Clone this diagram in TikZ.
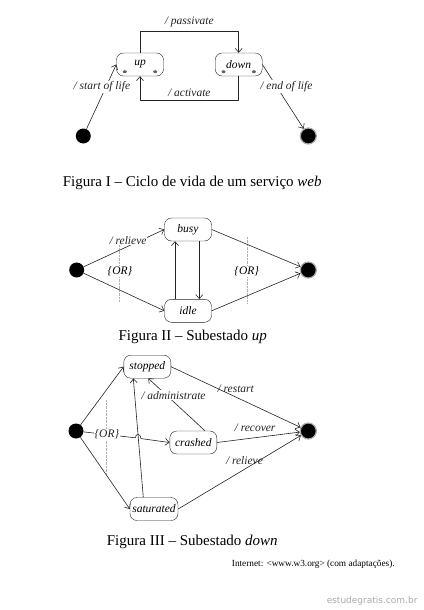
\documentclass[tikz,border=0pt]{standalone}
\usepackage{fontspec}
\setmainfont{Liberation Serif}
\newfontfamily\markfont{DejaVu Sans}
\usetikzlibrary{arrows.meta,calc,positioning}
\definecolor{linegray}{RGB}{35,35,35}
\definecolor{dotgray}{RGB}{100,100,100}
\definecolor{guidegray}{RGB}{175,175,175}
\definecolor{markgray}{RGB}{170,170,170}

\begin{document}
\begin{tikzpicture}[x=1pt,y=-1pt,font=\fontsize{11.5}{13}\selectfont\itshape,
  >={Straight Barb[length=4pt,width=7pt]},line join=round,
  state/.style={draw=linegray,rounded corners=7pt,minimum width=47pt,
    minimum height=23pt,inner sep=0pt},
  initial/.style={circle,fill=black,minimum size=15pt,inner sep=0pt},
  final/.style={circle,fill=black,draw=markgray,line width=1.2pt,
    minimum size=16pt,inner sep=0pt},
  trans/.style={->,linegray,semithick},
  guide/.style={guidegray,densely dotted},
  caption/.style={anchor=west,inner sep=0pt,font=\fontsize{15}{17}\selectfont}]
\useasboundingbox (0,0) rectangle (423,610);

% Figura I
\node[state] (up) at (140,64.5) {up};
\node[state] (down) at (238.7,64.5) {down};
\foreach \s in {up,down} {
  \fill[dotgray] ($(\s.south west)+(8.5,-4.5)$) ellipse (2pt and 1.5pt);
  \fill[dotgray] ($(\s.south east)+(-8.5,-4.5)$) ellipse (2pt and 1.5pt);
}
\node[initial] (start1) at (83.3,136) {};
\node[final] (end1) at (308.3,136) {};
\draw[trans] (up.north) -- ++(0,-21.5) -| (down.north)
  node[pos=0.25,above=1pt] {/ passivate};
\draw[trans] (down.south) -- ++(0,24) -| (up.south)
  node[pos=0.25,above=0pt] {/ activate};
\draw[trans] (start1) -- (up.west)
  node[pos=0.65,xshift=-4pt,fill=white,inner sep=1pt] {/ start of life};
\draw[trans] (down.east) -- (end1)
  node[pos=0.34,xshift=10pt,fill=white,inner sep=1pt] {/ end of life};
\node[caption] (cap1) at (62.7,183) {Figura I – Ciclo de vida de um serviço \textit{web}};

% Figura II
\node[initial] (init2) at (76.7,270) {};
\node[state] (busy) at (188,229.5) {busy};
\node[state] (idle) at (188,310.8) {idle};
\node[final] (end2) at (308.3,270) {};
\draw[guide] (119.3,245) -- (119.3,302);
\draw[guide] (246.7,236.7) -- (246.7,303);
\node[fill=white,inner sep=1pt] (or2a) at (120,271.7) {\{OR\}};
\node[fill=white,inner sep=1pt] (or2b) at (246.7,271.7) {\{OR\}};
\draw[trans] (init2) -- (busy.west)
  node[pos=0.55,yshift=6pt,fill=white,inner sep=1pt] {/ relieve};
\draw[trans] (init2) -- (idle.west);
\draw[trans] (busy.east) -- (end2);
\draw[trans] (idle.east) -- (end2);
\draw[trans] ([xshift=11.3pt]busy.south) -- ([xshift=11.3pt]idle.north);
\draw[trans] ([xshift=-13pt]idle.north) -- ([xshift=-13pt]busy.south);
\node[caption] (cap2) at (118.3,337) {Figura II – Subestado \textit{up}};

% Figura III
\node[initial] (init3) at (76,431) {};
\node[state] (stopped) at (147.3,366.7) {stopped};
\node[state] (crashed) at (193.3,442.5) {crashed};
\node[state,minimum width=48pt] (saturated) at (154,509) {saturated};
\node[final] (end3) at (308.3,431) {};
\draw[guide] (106,400) -- (106,475);
\coordinate (hopA) at (135.3,437.8);
\coordinate (hopB) at (141.1,438.6);
\draw[trans] (init3) -- (stopped.west);
\draw[trans] (init3) -- (saturated.west);
\draw[trans] ([xshift=-10.7pt]saturated.north) -- ([xshift=-14pt]stopped.south);
\draw[trans] (init3) -- node[pos=0.45,fill=white,inner sep=1pt] (or3) {\{OR\}} (hopA)
  .. controls +(0.5,-5) and +(-0.5,-5) .. (hopB) -- (crashed.west);
\draw[trans] ([xshift=11.7pt]crashed.north) -- ([xshift=1pt]stopped.south)
  node[pos=0.68,xshift=7pt,fill=white,inner sep=1pt] {/ administrate};
\draw[trans] (stopped.east) -- (end3)
  node[pos=0.5,yshift=8pt] {/ restart};
\draw[trans] (crashed.east) -- (end3)
  node[pos=0.46,above=2pt] {/ recover};
\draw[trans] (saturated.east) -- (end3)
  node[pos=0.54,yshift=9pt] {/ relieve};
\node[caption] (cap3) at (106.7,542) {Figura III – Subestado \textit{down}};

\node[anchor=west,inner sep=0pt,font=\fontsize{9.3}{10}\selectfont] (source)
  at (231.7,564) {Internet: <www.w3.org> (com adaptações).};
\node[anchor=east,font=\markfont\fontsize{9}{10}\selectfont,text=markgray] (mark)
  at (421,601) {estudegratis.com.br};
\end{tikzpicture}
\end{document}
